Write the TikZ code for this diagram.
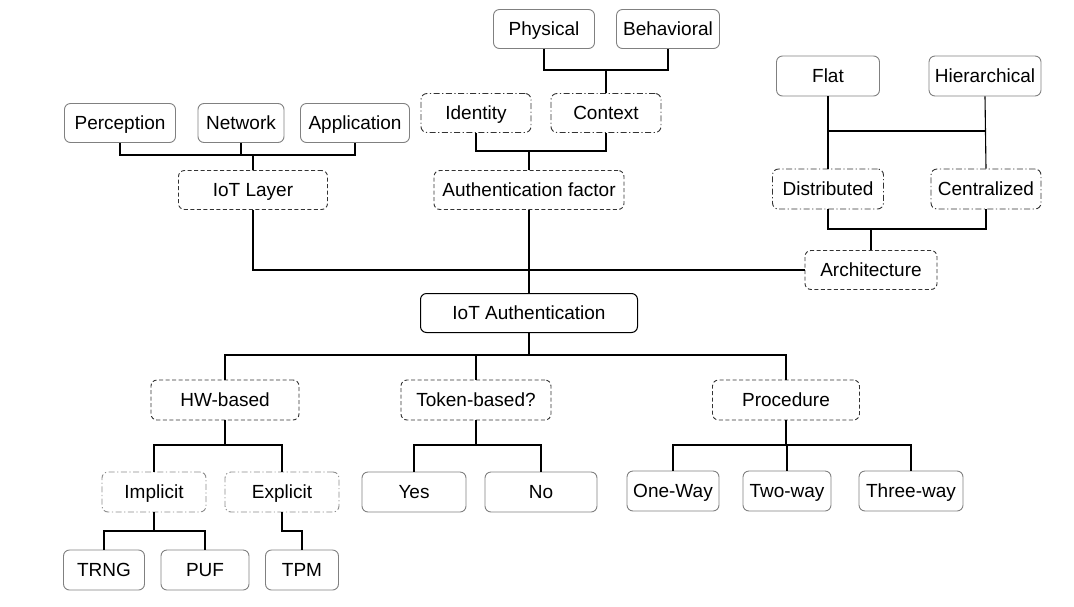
\documentclass[tikz,border=0pt]{standalone}
\usepackage{fontspec}
\setmainfont{Liberation Sans}
\begin{document}
\begin{tikzpicture}[x=1pt,y=-1pt,
  every node/.style={font=\fontsize{19}{22}\selectfont, rounded corners=6pt, minimum height=39pt, inner sep=0pt, text height=13.6pt, text depth=0pt, text=black},
  sbox/.style={draw=black!50, line width=0.9pt},
  rootbox/.style={draw=black, line width=1pt},
  dbox/.style={draw=black!80, line width=0.9pt, dash pattern=on 4pt off 2.5pt},
  ddbox/.style={draw=black!80, line width=0.9pt, dash pattern=on 6pt off 2.5pt on 1.2pt off 2.5pt},
  gddbox/.style={draw=black!45, line width=0.9pt, dash pattern=on 6pt off 2.5pt on 1.2pt off 2.5pt},
  conn/.style={draw=black, line width=1.1pt}]
\useasboundingbox (0,0) rectangle (1074,606);
% top
\node[sbox, minimum width=101] (phys) at (544,29) {Physical};
\node[sbox, minimum width=103] (beh) at (668,29) {Behavioral};
\node[ddbox, minimum width=110] (ident) at (476,113) {Identity};
\node[ddbox, minimum width=110] (ctx) at (606,113) {Context};
\node[dbox, minimum width=190] (af) at (529,190) {Authentication factor};
\node[sbox, minimum width=111] (perc) at (120,123) {Perception};
\node[sbox, minimum width=86] (net) at (241,123) {Network};
\node[sbox, minimum width=109] (app) at (355,123) {Application};
\node[dbox, minimum width=149] (layer) at (253,190) {IoT Layer};
\node[sbox, minimum width=103, minimum height=40] (flat) at (828,76) {Flat};
\node[sbox, minimum width=112, minimum height=40] (hier) at (985,76) {Hierarchical};
\node[ddbox, minimum width=111, minimum height=40] (dist) at (828,189) {Distributed};
\node[ddbox, minimum width=110, minimum height=40] (cent) at (986,189) {Centralized};
\node[dbox, minimum width=132] (arch) at (871,270) {Architecture};
\node[rootbox, minimum width=217] (root) at (529,313) {IoT Authentication};
% bottom
\node[dbox, minimum width=148, minimum height=40] (hw) at (225,400) {HW-based};
\node[dbox, minimum width=150, minimum height=40] (tok) at (476,400) {Token-based?};
\node[dbox, minimum width=147, minimum height=40] (proc) at (786,400) {Procedure};
\node[gddbox, minimum width=104, minimum height=40] (impl) at (154,492) {Implicit};
\node[gddbox, minimum width=114, minimum height=40] (expl) at (282,492) {Explicit};
\node[sbox, minimum width=104, minimum height=40] (yes) at (414,492) {Yes};
\node[sbox, minimum width=112, minimum height=40] (no) at (541,492) {No};
\node[sbox, minimum width=92, minimum height=40] (one) at (673,491) {One-Way};
\node[sbox, minimum width=88, minimum height=40] (two) at (787,491) {Two-way};
\node[sbox, minimum width=104, minimum height=40] (three) at (911,491) {Three-way};
\node[sbox, minimum width=81, minimum height=40] (trng) at (104,570) {TRNG};
\node[sbox, minimum width=88, minimum height=40] (puf) at (205,570) {PUF};
\node[sbox, minimum width=73, minimum height=40] (tpm) at (302,570) {TPM};
% bus coordinates
\coordinate (y1) at (0,70);
\coordinate (y2) at (0,151);
\coordinate (y3) at (0,155);
\coordinate (y4) at (0,131);
\coordinate (y5) at (0,229);
\coordinate (y7) at (0,355);
\coordinate (y8) at (0,445);
\coordinate (y9) at (0,531);
% connectors
\draw[conn] (phys.south) |- (beh.south |- y1) -- (beh.south);
\draw[conn] (ctx.north) -- (ctx.north |- y1);
\draw[conn] (ident.south) |- (ctx.south |- y2) -- (ctx.south);
\draw[conn] (af.north) -- (af.north |- y2);
\draw[conn] (perc.south) |- (app.south |- y3) -- (app.south);
\draw[conn] (net.south) -- (net.south |- y3);
\draw[conn] (layer.north) -- (layer.north |- y3);
\draw[conn] (flat.south) -- (dist.north);
\draw[conn] (hier.south) -- (cent.north);
\draw[conn] (flat.south |- y4) -- (hier.south |- y4);
\draw[conn] (dist.south) |- (cent.south |- y5) -- (cent.south);
\draw[conn] (arch.north) -- (arch.north |- y5);
\draw[conn] (layer.south) |- (arch.west);
\draw[conn] (af.south) -- (root.north);
\draw[conn] (root.south) -- (root.south |- y7);
\draw[conn] (hw.north) |- (proc.north |- y7) -- (proc.north);
\draw[conn] (tok.north) -- (tok.north |- y7);
\draw[conn] (hw.south) -- (hw.south |- y8);
\draw[conn] (impl.north) |- (expl.north |- y8) -- (expl.north);
\draw[conn] (tok.south) -- (tok.south |- y8);
\draw[conn] (yes.north) |- (no.north |- y8) -- (no.north);
\draw[conn] (proc.south) -- (proc.south |- y8);
\draw[conn] (one.north) |- (three.north |- y8) -- (three.north);
\draw[conn] (two.north) -- (two.north |- y8);
\draw[conn] (impl.south) -- (impl.south |- y9);
\draw[conn] (trng.north) |- (puf.north |- y9) -- (puf.north);
\draw[conn] (expl.south) |- (tpm.north |- y9) -- (tpm.north);
\end{tikzpicture}
\end{document}
